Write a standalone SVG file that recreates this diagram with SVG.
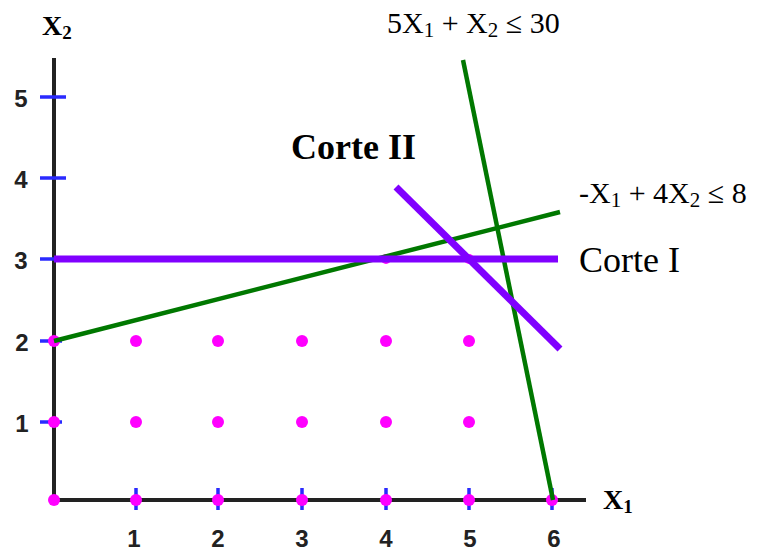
<svg xmlns="http://www.w3.org/2000/svg" width="760" height="552" viewBox="0 0 760 552">
<style>
.axis{stroke:#222;stroke-width:4;fill:none}
.tick{stroke:#2a2aff;stroke-width:3.5}
.dot{fill:#ff00ff}
.green{stroke:#007800;stroke-width:4.5;fill:none}
.purple{stroke:#8000ff;stroke-width:7;fill:none}
.num{font-family:"Liberation Sans",Arial,sans-serif;font-weight:bold;font-size:24px;fill:#222;text-anchor:middle}
.lbl{font-family:"Liberation Serif","Times New Roman",serif;fill:#000}
.axl{font-family:"Liberation Serif","Times New Roman",serif;font-weight:bold;font-size:28px;fill:#000}
</style>
<rect width="760" height="552" fill="#fff"/>
<g id="axes">
<line class="axis" x1="54" y1="58" x2="54" y2="500"/>
<line class="axis" x1="54" y1="500" x2="586" y2="500"/>
</g>
<g id="ticks">
<line class="tick" x1="40" y1="97" x2="66" y2="97"/>
<line class="tick" x1="40" y1="178" x2="66" y2="178"/>
<line class="tick" x1="40" y1="259" x2="62" y2="259"/>
<line class="tick" x1="40" y1="341" x2="62" y2="341"/>
<line class="tick" x1="40" y1="422" x2="62" y2="422"/>
<line class="tick" x1="136" y1="488" x2="136" y2="510"/>
<line class="tick" x1="218" y1="488" x2="218" y2="510"/>
<line class="tick" x1="302" y1="488" x2="302" y2="510"/>
<line class="tick" x1="386" y1="488" x2="386" y2="510"/>
<line class="tick" x1="469" y1="488" x2="469" y2="510"/>
<line class="tick" x1="552" y1="488" x2="552" y2="510"/>
</g>
<g id="tick-labels">
<text class="num" x="21" y="107">5</text>
<text class="num" x="21" y="188">4</text>
<text class="num" x="21" y="269">3</text>
<text class="num" x="22" y="351">2</text>
<text class="num" x="22" y="432">1</text>
<text class="num" x="134" y="547">1</text>
<text class="num" x="218" y="547">2</text>
<text class="num" x="302" y="547">3</text>
<text class="num" x="386" y="547">4</text>
<text class="num" x="470" y="547">5</text>
<text class="num" x="554" y="547">6</text>
</g>
<g id="axis-labels">
<text class="axl" x="42" y="35">X<tspan font-size="19" dy="4">2</tspan></text>
<text class="axl" x="603" y="509">X<tspan font-size="19" dy="4">1</tspan></text>
</g>
<g id="points">
<circle class="dot" cx="54" cy="500" r="6"/><circle class="dot" cx="136" cy="500" r="6"/><circle class="dot" cx="218" cy="500" r="6"/><circle class="dot" cx="302" cy="500" r="6"/><circle class="dot" cx="386" cy="500" r="6"/><circle class="dot" cx="469" cy="500" r="6"/><circle class="dot" cx="552" cy="500" r="6"/>
<circle class="dot" cx="54" cy="422" r="6"/><circle class="dot" cx="136" cy="422" r="6"/><circle class="dot" cx="218" cy="422" r="6"/><circle class="dot" cx="302" cy="422" r="6"/><circle class="dot" cx="386" cy="422" r="6"/><circle class="dot" cx="469" cy="422" r="6"/>
<circle class="dot" cx="54" cy="341" r="6"/><circle class="dot" cx="136" cy="341" r="6"/><circle class="dot" cx="218" cy="341" r="6"/><circle class="dot" cx="302" cy="341" r="6"/><circle class="dot" cx="386" cy="341" r="6"/><circle class="dot" cx="469" cy="341" r="6"/>
<circle class="dot" cx="386" cy="259" r="5"/><circle class="dot" cx="469" cy="259" r="5"/>
</g>
<g id="connectors">
<line class="green" x1="54" y1="341" x2="560" y2="212"/>
<line class="green" x1="463" y1="60" x2="553" y2="500"/>
<line class="purple" x1="54" y1="259" x2="558" y2="259"/>
<line class="purple" x1="396" y1="187" x2="560" y2="349"/>
</g>
<g id="labels">
<text class="lbl" x="387" y="33" font-size="30">5X<tspan font-size="21" dy="4">1</tspan><tspan dy="-4"> + X</tspan><tspan font-size="21" dy="4">2</tspan><tspan dy="-4"> ≤ 30</tspan></text>
<text class="lbl" x="579" y="203" font-size="30">-X<tspan font-size="21" dy="4">1</tspan><tspan dy="-4"> + 4X</tspan><tspan font-size="21" dy="4">2</tspan><tspan dy="-4"> ≤ 8</tspan></text>
<text class="lbl" x="579" y="272" font-size="36">Corte I</text>
<text class="lbl" x="291" y="159" font-size="36" font-weight="bold">Corte II</text>
</g>
</svg>
